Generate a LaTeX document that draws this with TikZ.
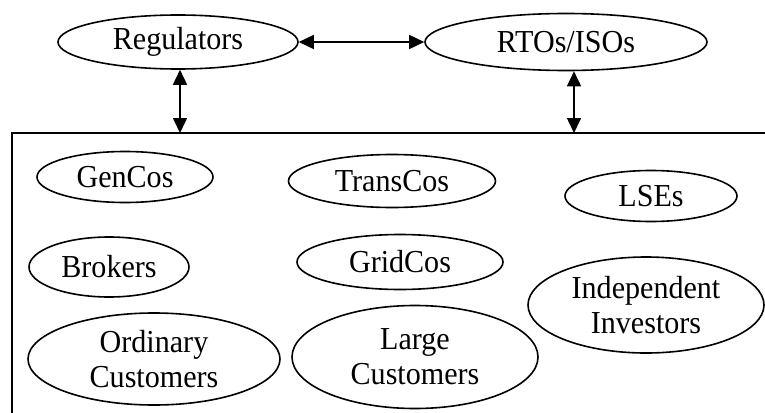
\documentclass[tikz,border=0pt]{standalone}
\usepackage{fontspec}
\setmainfont{Liberation Serif}[FakeStretch=0.94]
\usetikzlibrary{shapes.geometric,arrows.meta}
\begin{document}
\begin{tikzpicture}[x=1pt,y=-1pt,
  actor/.style={ellipse,draw,line width=1.6pt,inner sep=0pt,align=center,
    font=\fontsize{32}{35}\selectfont},
  link/.style={line width=1.6pt,{Triangle[length=15pt,width=14pt]}-{Triangle[length=15pt,width=14pt]}}]
\useasboundingbox (0,0) rectangle (765,412);

% market participants enclosure (open to the right and bottom)
\coordinate (boxtl) at (12,133);
\draw[line width=1.6pt] (12,430) -- (boxtl) -- (780,133);

% oversight bodies
\node[actor,minimum width=240pt,minimum height=54pt] (reg) at (178,42) {Regulators};
\node[actor,minimum width=282pt,minimum height=57pt] (rto) at (566,42) {RTOs/ISOs};

% participants
\node[actor,minimum width=176pt,minimum height=51pt] (gen) at (125,177) {GenCos};
\node[actor,minimum width=207pt,minimum height=53pt] (trans) at (392,181) {TransCos};
\node[actor,minimum width=172pt,minimum height=51pt] (lse) at (651,196) {LSEs};
\node[actor,minimum width=160pt,minimum height=60pt] (brok) at (109,267) {Brokers};
\node[actor,minimum width=206pt,minimum height=55pt] (grid) at (400,262) {GridCos};
\node[actor,minimum width=236pt,minimum height=96pt] (inv) at (646,305) {Independent\\Investors};
\node[actor,minimum width=252pt,minimum height=92pt] (ord) at (154,359) {Ordinary\\Customers};
\node[actor,minimum width=246pt,minimum height=103pt] (large) at (415,357) {Large\\Customers};

% interactions
\coordinate (lefttop) at (180,133);
\coordinate (righttop) at (574,133);
\draw[link] (reg) -- (rto);
\draw[link] (reg.south -| lefttop) -- (lefttop);
\draw[link] (rto.south -| righttop) -- (righttop);
\end{tikzpicture}
\end{document}
